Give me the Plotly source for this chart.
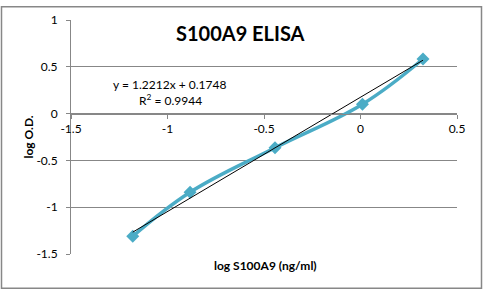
import plotly.graph_objects as go

# Data
log_conc = [-1.18, -0.883, -0.443, 0.01, 0.324]
log_od = [-1.31, -0.84, -0.365, 0.10, 0.583]
slope = 1.2212
intercept = 0.1748
r2 = 0.9944

x_ticks = [-1.5, -1.0, -0.5, 0.0, 0.5]
x_ticktext = ["-1.5", "-1", "-0.5", "0", "0.5"]
y_ticks = [-1.5, -1.0, -0.5, 0.0, 0.5, 1.0]
y_ticktext = ["-1.5", "-1", "-0.5", "0", "0.5", "1"]

FONT = "Lato, Open Sans, sans-serif"
GRAY = "#878787"
TEAL = "#4BACC6"

W, H = 483, 291
ML, MR, MT, MB = 71, 26, 15, 37
PW, PH = W - ML - MR, H - MT - MB

def px(xp):
    return (xp - ML) / PW

def py(yp):
    return (H - MB - yp) / PH

trend_x = [min(log_conc), max(log_conc)]
trend_y = [slope * v + intercept for v in trend_x]

fig = go.Figure()
fig.add_trace(go.Scatter(
    x=log_conc, y=log_od, mode="lines+markers",
    line=dict(color=TEAL, width=3.5, shape="spline", smoothing=1.1),
    marker=dict(symbol="diamond", size=10, color=TEAL),
    showlegend=False, hoverinfo="skip"))
fig.add_trace(go.Scatter(
    x=trend_x, y=trend_y, mode="lines",
    line=dict(color="black", width=1),
    showlegend=False, hoverinfo="skip"))

y0_frac = (0 - (-1.5)) / (1.0 - (-1.5))

fig.update_layout(
    width=W, height=H,
    margin=dict(l=ML, r=MR, t=MT, b=MB),
    paper_bgcolor="white", plot_bgcolor="white",
    font=dict(family=FONT, size=12, color="black"),
    xaxis=dict(range=[-1.5, 0.5], tickvals=x_ticks, ticktext=x_ticktext,
               showgrid=False, zeroline=False, showline=True,
               linecolor=GRAY, linewidth=1, ticks="outside", ticklen=4,
               tickcolor=GRAY, anchor="free", position=y0_frac,
               ticklabelstandoff=0,
               tickfont=dict(size=12, family=FONT)),
    yaxis=dict(range=[-1.5, 1.0], tickvals=y_ticks, ticktext=y_ticktext,
               showgrid=True, gridcolor=GRAY, gridwidth=1, zeroline=False,
               showline=True, linecolor=GRAY, linewidth=1, ticks="outside",
               ticklen=4, tickcolor=GRAY, ticklabelstandoff=6,
               tickfont=dict(size=12, family=FONT)),
    shapes=[dict(type="rect", xref="paper", yref="paper",
                 x0=px(1.5), x1=px(481.5), y0=py(289), y1=py(1.5),
                 line=dict(color=GRAY, width=1.5), fillcolor="rgba(0,0,0,0)",
                 layer="below")],
    annotations=[
        dict(text="<b>S100A9 ELISA</b>", xref="paper", yref="paper",
             x=px(240), y=py(28), showarrow=False,
             font=dict(size=20, family=FONT, color="black"),
             xanchor="center", yanchor="middle"),
        dict(text=f"y = {slope}x + {intercept}", xref="paper", yref="paper",
             x=px(169), y=py(81), showarrow=False,
             font=dict(size=12, family=FONT), xanchor="center", yanchor="middle"),
        dict(text=f"R<sup>2</sup> = {r2}", xref="paper", yref="paper",
             x=px(170), y=py(97), showarrow=False,
             font=dict(size=12, family=FONT), xanchor="center", yanchor="middle"),
        dict(text="<b>log S100A9 (ng/ml)</b>", xref="paper", yref="paper",
             x=px(265), y=py(266), showarrow=False,
             font=dict(size=12, family=FONT), xanchor="center", yanchor="middle"),
        dict(text="<b>log O.D.</b>", xref="paper", yref="paper",
             x=px(28), y=py(135), showarrow=False, textangle=-90,
             font=dict(size=12, family=FONT), xanchor="center", yanchor="middle"),
    ],
)

fig.write_html("out.html")
